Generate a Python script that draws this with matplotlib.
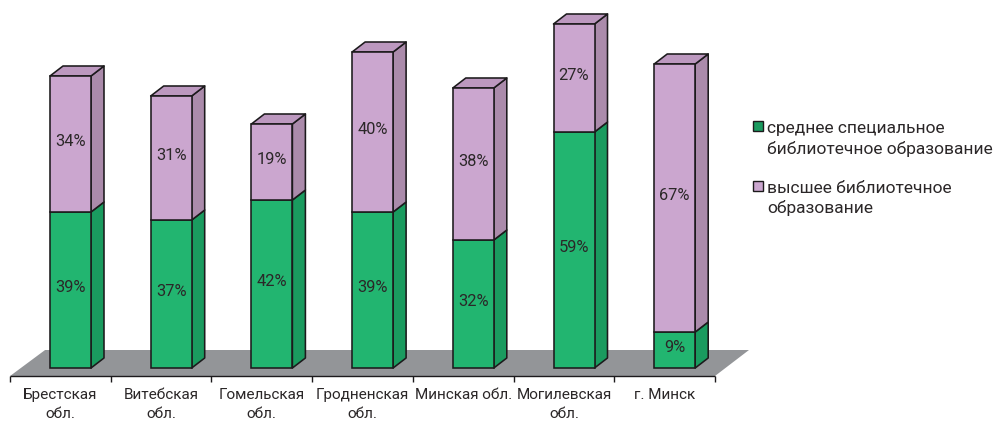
import matplotlib
matplotlib.use("Agg")
import matplotlib.pyplot as plt
from matplotlib.patches import Polygon, Patch, Rectangle
from matplotlib.legend_handler import HandlerPatch

plt.rcParams['font.family'] = ['Roboto', 'DejaVu Sans']

regions = ['Брестская\nобл.', 'Витебская\nобл.', 'Гомельская\nобл.', 'Гродненская\nобл.',
           'Минская обл.', 'Могилевская\nобл.', 'г. Минск']
secondary = [39, 37, 42, 39, 32, 59, 9]
higher = [34, 31, 19, 40, 38, 27, 67]
series_names = ['среднее специальное\nбиблиотечное образование', 'высшее библиотечное\nобразование']

W, H = 994, 421
PX_CAT = 100.7
PX_VAL = 4.0
X0, Y0 = 70.5, 368.0
C_GREEN, C_GREEN_SIDE = '#22b570', '#1a9b5f'
C_PURP, C_PURP_SIDE, C_PURP_TOP = '#cba6cf', '#ab8bab', '#bc98bf'
EDGE = '#1c1a1c'
FLOOR = '#939598'
TXT = '#2b2728'

fig = plt.figure(figsize=(W / 100, H / 100), dpi=100)
ax = fig.add_axes([0, 0, 1, 1])
ax.set_xlim(-X0 / PX_CAT, (W - X0) / PX_CAT)
ax.set_ylim((Y0 - H) / PX_VAL, Y0 / PX_VAL)
ax.axis('off')

bw = 41 / PX_CAT
dx, dy = 13 / PX_CAT, 10 / PX_VAL
n = len(regions)

# floor
fy0, fy1 = -8 / PX_VAL, 18 / PX_VAL
fl, fr = -0.6, n - 0.6
ax.add_patch(Polygon([(fl, fy0), (fr, fy0), (fr + 34 / PX_CAT, fy1), (fl + 35 / PX_CAT, fy1)],
                     closed=True, fc=FLOOR, ec='none', zorder=1))
# category axis
ax.plot([fl, fr], [fy0, fy0], color=EDGE, lw=1, zorder=2, solid_capstyle='butt')
for i in range(n + 1):
    ax.plot([fl + i, fl + i], [fy0, fy0 - 6 / PX_VAL], color=EDGE, lw=1, zorder=2, solid_capstyle='butt')
for i, r in enumerate(regions):
    ax.text(fl + i + 0.5, (Y0 - 388) / PX_VAL, r, ha='center', va='top', fontsize=11.0,
            color=TXT, linespacing=1.42, zorder=5)

x = list(range(n))
lw = 1.15
ax.bar(x, secondary, width=bw, color=C_GREEN, edgecolor=EDGE, lw=lw, zorder=4)
ax.bar(x, higher, width=bw, bottom=secondary, color=C_PURP, edgecolor=EDGE, lw=lw, zorder=4)

for i in x:
    r = i + bw / 2
    l = i - bw / 2
    s, h = secondary[i], higher[i]
    t = s + h
    ax.add_patch(Polygon([(r, 0), (r + dx, dy), (r + dx, s + dy), (r, s)], closed=True,
                         fc=C_GREEN_SIDE, ec=EDGE, lw=lw, joinstyle='round', zorder=3))
    ax.add_patch(Polygon([(r, s), (r + dx, s + dy), (r + dx, t + dy), (r, t)], closed=True,
                         fc=C_PURP_SIDE, ec=EDGE, lw=lw, joinstyle='round', zorder=3))
    ax.add_patch(Polygon([(l, t), (r, t), (r + dx, t + dy), (l + dx, t + dy)], closed=True,
                         fc=C_PURP_TOP, ec=EDGE, lw=lw, joinstyle='round', zorder=3))
    ax.text(i, s / 2 + 0.5, f'{s}%', ha='center', va='center', fontsize=11.8, color=TXT, zorder=6)
    ax.text(i, s + h / 2 + 0.5, f'{h}%', ha='center', va='center', fontsize=11.8, color=TXT, zorder=6)


def top_patch(legend, orig_handle, xdescent, ydescent, width, height, fontsize):
    return Rectangle((0, 9.8), 7, 7)


handles = [Patch(fc=C_GREEN_SIDE, ec=EDGE, lw=1), Patch(fc=C_PURP, ec=EDGE, lw=1)]
leg = ax.legend(handles, series_names, loc='upper left',
                bbox_to_anchor=(753 / W, 1 - 121 / H), bbox_transform=fig.transFigure,
                frameon=False, fontsize=12.5, labelspacing=1.38, handlelength=0.55, handleheight=0.55,
                handletextpad=0.25, borderpad=0, borderaxespad=0, labelcolor=TXT,
                handler_map={Patch: HandlerPatch(patch_func=top_patch)})
for t in leg.get_texts():
    t.set_linespacing(1.35)

fig.savefig('out.png', dpi=100)
